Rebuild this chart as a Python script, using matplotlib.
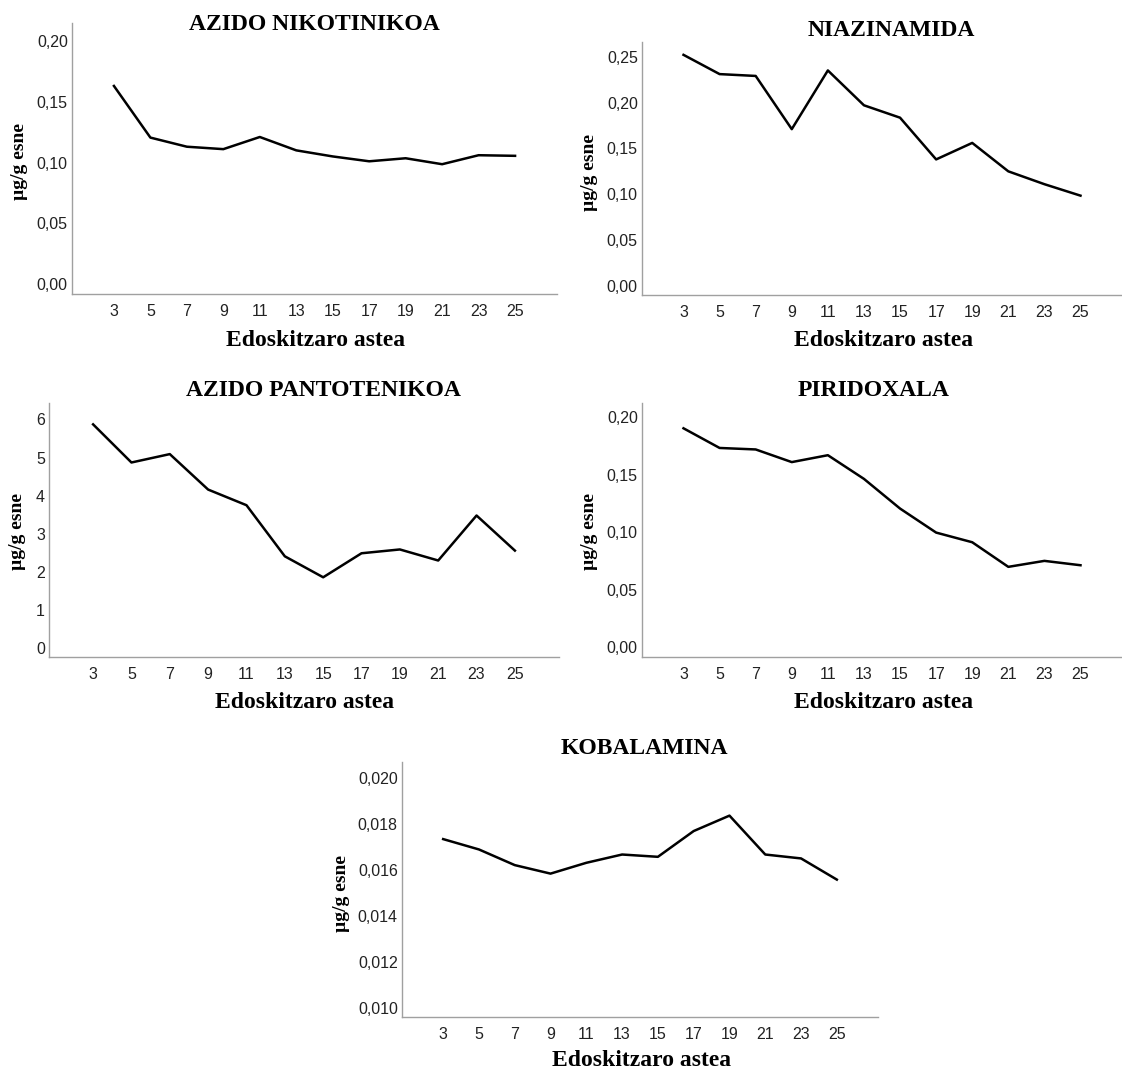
import matplotlib
matplotlib.use('Agg')
import matplotlib.pyplot as plt
from matplotlib.ticker import FuncFormatter

W, H = 1122, 1073

weeks = [3, 5, 7, 9, 11, 13, 15, 17, 19, 21, 23, 25]
week_labels = [str(w) for w in weeks]

nikotiniko = [0.163, 0.1205, 0.113, 0.111, 0.121, 0.110, 0.105, 0.101, 0.1035, 0.0986, 0.106, 0.1055]
niazinamida = [0.252, 0.231, 0.229, 0.171, 0.235, 0.197, 0.1835, 0.138, 0.156, 0.125, 0.111, 0.0985]
pantoteniko = [5.87, 4.87, 5.09, 4.16, 3.75, 2.41, 1.86, 2.49, 2.59, 2.30, 3.48, 2.56]
piridoxala = [0.1904, 0.1733, 0.172, 0.161, 0.167, 0.1464, 0.1206, 0.0997, 0.0913, 0.0699, 0.0751, 0.0713]
kobalamina = [0.01735, 0.0169, 0.01622, 0.01585, 0.01632, 0.01668, 0.01658, 0.0177, 0.01837, 0.01668, 0.01651, 0.01559]

yticks_nik = [0.00, 0.05, 0.10, 0.15, 0.20]
yticks_nia = [0.00, 0.05, 0.10, 0.15, 0.20, 0.25]
yticks_pan = [0, 1, 2, 3, 4, 5, 6]
yticks_pir = [0.00, 0.05, 0.10, 0.15, 0.20]
yticks_kob = [0.010, 0.012, 0.014, 0.016, 0.018, 0.020]

fig = plt.figure(figsize=(W / 100, H / 100), dpi=100)

serif = 'Liberation Serif'
sans = 'Liberation Sans'


def comma(dec):
    return FuncFormatter(lambda v, p: f'{v:.{dec}f}'.replace('.', ','))


def panel(box, values, yticks, ylim, dec, title, title_xy, xlabel_xy, ylabel_xy):
    # box is (left, top, right, bottom) in pixels
    l, t, r, b = box
    ax = fig.add_axes([l / W, 1 - b / H, (r - l) / W, (b - t) / H])
    ax.plot(weeks, values, color='black', lw=1.8)
    ax.set_xlim(0.7, 27.3)
    ax.set_ylim(*ylim)
    ax.set_xticks(weeks)
    ax.set_xticklabels(week_labels)
    ax.set_yticks(yticks)
    ax.yaxis.set_major_formatter(comma(dec))
    ax.tick_params(length=0, labelsize=11.5, colors='#222222')
    ax.tick_params(axis='x', pad=7)
    ax.tick_params(axis='y', pad=3)
    for lab in ax.get_xticklabels() + ax.get_yticklabels():
        lab.set_fontfamily(sans)
    for s in ['top', 'right']:
        ax.spines[s].set_visible(False)
    for s in ['left', 'bottom']:
        ax.spines[s].set_color('#a0a0a0')
        ax.spines[s].set_linewidth(1.0)
    fig.text(title_xy[0] / W, 1 - title_xy[1] / H, title, family=serif, weight='bold',
             fontsize=17, ha='center', va='center')
    fig.text(xlabel_xy[0] / W, 1 - xlabel_xy[1] / H, 'Edoskitzaro astea', family=serif,
             weight='bold', fontsize=17, ha='center', va='center')
    fig.text(ylabel_xy[0] / W, 1 - ylabel_xy[1] / H, 'µg/g esne', family=serif,
             weight='bold', fontsize=14, ha='center', va='center', rotation=90)
    return ax


panel((72, 23, 557, 294), nikotiniko, yticks_nik, (-0.0082, 0.2148), 2,
      'AZIDO NIKOTINIKOA', (314, 24), (316, 340), (20, 162))
panel((642, 42, 1122, 295), niazinamida, yticks_nia, (-0.0098, 0.266), 2,
      'NIAZINAMIDA', (891, 30), (884, 340), (590, 173))
panel((49, 403, 559, 657), pantoteniko, yticks_pan, (-0.23, 6.43), 0,
      'AZIDO PANTOTENIKOA', (323, 390), (305, 702), (18, 532))
panel((642, 403, 1122, 657), piridoxala, yticks_pir, (-0.0085, 0.2124), 2,
      'PIRIDOXALA', (874, 390), (884, 702), (590, 532))
panel((402, 762, 878, 1017), kobalamina, yticks_kob, (0.00962, 0.0207), 3,
      'KOBALAMINA', (644, 749), (642, 1060), (342, 893))

fig.savefig('out.png', dpi=100, facecolor='white')
